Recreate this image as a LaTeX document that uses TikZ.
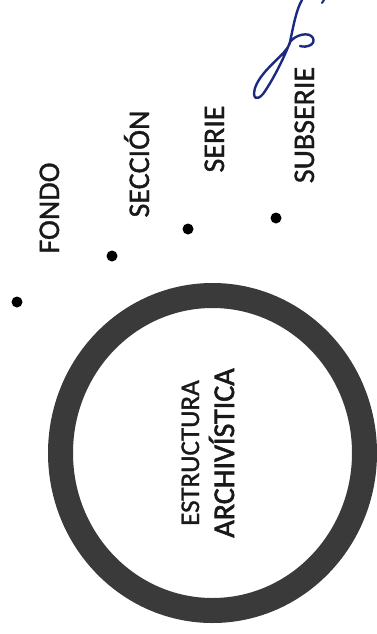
\documentclass[tikz,border=0pt]{standalone}
\usepackage{fontspec}
\setmainfont{Carlito}
\newfontfamily\scanfont[FakeBold=1.2]{Carlito}
\newfontfamily\scanfontb[FakeBold=2]{Carlito}
\definecolor{ringgray}{HTML}{3A3A3A}
\definecolor{ink}{HTML}{1B2A80}
\begin{document}
\begin{tikzpicture}[x=1pt,y=-1pt,
  lbl/.style={rotate=90,anchor=base,font=\scanfont\fontsize{30}{32}\selectfont,inner sep=0pt,text=black!90},
  dotmark/.style={circle,fill=black,inner sep=0pt,minimum size=11pt}]
\useasboundingbox (0,0) rectangle (377,634);
% ring
\draw[ringgray,line width=25pt] (212.5,453) ellipse [x radius=152, y radius=157.5];
% text in circle
\node[lbl,font=\scanfont\fontsize{27}{29}\selectfont] (estr) at (199,453) {ESTRUCTURA};
\node[lbl,font=\scanfontb\fontsize{30}{32}\selectfont] (arch) at (234,453) {ARCHIVÍSTICA};
% labels
\node[lbl] (fondo) at (59,208) {FONDO};
\node[lbl] (seccion) at (149,164) {SECCIÓN};
\node[lbl] (serie) at (224,139) {SERIE};
\node[lbl] (subserie) at (314,125) {SUBSERIE};
% dots
\node[dotmark] (d1) at (17,302) {};
\node[dotmark] (d2) at (112,256) {};
\node[dotmark] (d3) at (188,229) {};
\node[dotmark] (d4) at (276,218) {};
% signature
\draw[ink,line width=2.4pt,line cap=round,line join=round]
  (302,0) .. controls (296,10) and (293,28) .. (290,42)
  .. controls (288,54) and (262,68) .. (255,88)
  .. controls (252,99) and (257,101) .. (263,94)
  .. controls (273,80) and (284,58) .. (290,42)
  .. controls (295,35) and (309,31) .. (313,38)
  .. controls (316,45) and (306,48) .. (300,46);
\draw[ink,line width=2pt,line cap=round] (324,0) -- (322,3);
\end{tikzpicture}
\end{document}
